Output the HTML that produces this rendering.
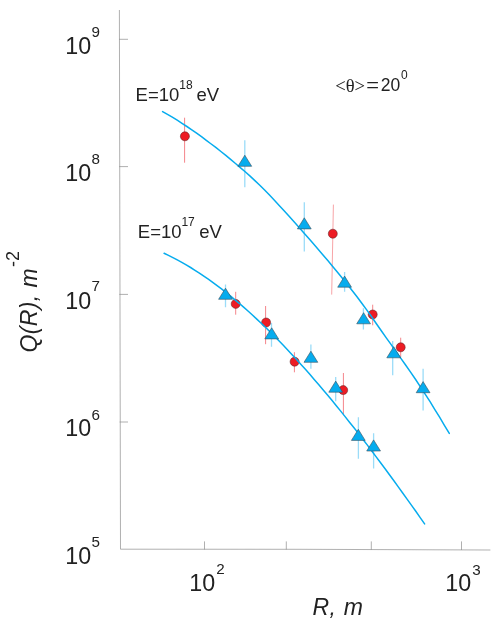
<!DOCTYPE html>
<html><head><meta charset="utf-8">
<style>
html,body{margin:0;padding:0;background:#fff;}
body{width:498px;height:623px;overflow:hidden;}
svg{display:block;will-change:transform;}
text{font-family:"Liberation Sans",sans-serif;fill:#222;}
</style></head><body>
<svg width="498" height="623" viewBox="0 0 498 623">
<rect width="498" height="623" fill="#fff"/>
<!-- axes -->
<g stroke="#8e8e8e" stroke-width="0.7" fill="none">
<path d="M119.4 10L120.5 549.2L300 549.3L490.4 550"/>
<path d="M119 39.3H128M119.2 166.6H128M119.3 294.4H128M119.6 422H128"/>
<path d="M204.5 541.4V549.5M286.3 541.4V549.5M371.3 541.4V549.8M461.5 541.4V550"/>
</g>
<!-- error bars -->
<g stroke="#9bdcf8" stroke-width="1.3" fill="none">
<path d="M244.8 140.2V187.3M304.3 202.2V251.4M344.6 272V291.8M363.4 308.3V329.4M392.7 341V375.2M423.1 368.8V410.4M225.5 284.6V307.3M271.5 323.1V346.8M310.9 344.6V368.7M335.7 377V401.2M358.4 417.2V458.7M373.6 433.2V468.6"/>
</g>
<g stroke="#f4858a" stroke-width="1" fill="none">
<path d="M184.6 117.7L184.6 162.7M372.7 304.7L372.7 325.3M400.7 337.7L400.7 357M235.7 291.8L235.7 314.7M265.6 306L265.6 344.2M294.4 352.2L294.4 372.3M343.4 373L343.4 414.2"/>
</g>
<path d="M333.4 204.6L331.7 294.6" stroke="#f4858a" stroke-width="0.75" fill="none"/>
<!-- circles -->
<g fill="#ed1c24" stroke="#5e2428" stroke-width="0.55">
<circle cx="184.9" cy="136.3" r="4.5"/>
<circle cx="332.8" cy="233.7" r="4.5"/>
<circle cx="372.7" cy="314.5" r="4.5"/>
<circle cx="400.7" cy="347.3" r="4.5"/>
<circle cx="235.7" cy="303.9" r="4.5"/>
<circle cx="266.1" cy="322.5" r="4.5"/>
<circle cx="294.6" cy="361.7" r="4.5"/>
<circle cx="343.2" cy="390.1" r="4.5"/>
</g>
<!-- curves -->
<g stroke="#06acee" stroke-width="1.5" fill="none" stroke-linecap="round" stroke-linejoin="round">
<path id="cu" d="M162.6 111.6L167.5 114.4L172.3 117.2L177.2 120.2L182.0 123.3L186.9 126.5L191.8 129.8L196.6 133.2L201.5 136.7L206.3 140.3L211.2 144.0L216.1 147.7L220.9 151.5L225.8 155.4L230.6 159.4L235.5 163.5L240.3 167.6L245.2 171.8L250.1 176.1L254.9 180.6L259.8 185.2L264.6 190.1L269.5 195.1L274.4 200.2L279.2 205.4L284.1 210.7L288.9 216.1L293.8 221.5L298.7 226.9L303.5 232.4L308.4 238.0L313.2 243.6L318.1 249.2L323.0 254.9L327.8 260.6L332.7 266.4L337.5 272.3L342.4 278.3L347.3 284.3L352.1 290.5L357.0 296.8L361.8 303.3L366.7 309.9L371.6 316.8L376.4 323.7L381.3 330.7L386.1 337.6L391.0 344.4L395.8 351.3L400.7 358.1L405.6 365.0L410.4 371.9L415.3 379.0L420.1 386.3L425.0 393.8L429.9 401.4L434.7 409.3L439.6 417.2L444.4 425.3L449.3 433.4"/>
<path id="cl" d="M164.1 253.3L168.5 255.4L172.9 257.6L177.3 259.9L181.8 262.3L186.2 264.9L190.6 267.5L195.0 270.3L199.4 273.1L203.8 276.1L208.3 279.2L212.7 282.3L217.1 285.6L221.5 288.9L225.9 292.4L230.3 295.9L234.7 299.6L239.2 303.3L243.6 307.1L248.0 311.0L252.4 315.0L256.8 319.1L261.2 323.3L265.7 327.5L270.1 331.9L274.5 336.3L278.9 340.8L283.3 345.3L287.7 350.0L292.1 354.7L296.6 359.5L301.0 364.4L305.4 369.3L309.8 374.3L314.2 379.4L318.6 384.5L323.0 389.7L327.5 395.0L331.9 400.3L336.3 405.7L340.7 411.1L345.1 416.6L349.5 422.2L354.0 427.8L358.4 433.4L362.8 439.2L367.2 444.9L371.6 450.7L376.0 456.6L380.4 462.5L384.9 468.5L389.3 474.5L393.7 480.5L398.1 486.6L402.5 492.7L406.9 498.9L411.4 505.1L415.8 511.3L420.2 517.6L424.6 523.9"/>
</g>
<!-- triangles -->
<g fill="#06acee" stroke="#3b4f5c" stroke-width="0.6" stroke-linejoin="miter">
<path d="M244.8 155.2l6.9 11.1h-13.8z"/>
<path d="M304.3 217.8l6.9 11.1h-13.8z"/>
<path d="M344.6 276.1l6.9 11.1h-13.8z"/>
<path d="M363.6 312.7l6.9 11.1h-13.8z"/>
<path d="M393.7 346.7l6.9 11.1h-13.8z"/>
<path d="M423.1 381.6l6.9 11.1h-13.8z"/>
<path d="M225.5 288.2l6.9 11.1h-13.8z"/>
<path d="M271.7 327.8l6.9 11.1h-13.8z"/>
<path d="M310.9 351.2l6.9 11.1h-13.8z"/>
<path d="M335.7 381.1l6.9 11.1h-13.8z"/>
<path d="M358.3 429.3l6.9 11.1h-13.8z"/>
<path d="M373.6 439.9l6.9 11.1h-13.8z"/>
</g>
<!-- labels -->
<g font-size="23.3">
<text x="65.2" y="53.8">10</text>
<text x="65.2" y="181.3">10</text>
<text x="65.2" y="309">10</text>
<text x="65.2" y="436.4">10</text>
<text x="65.2" y="564">10</text>
<text x="189.2" y="590.6">10</text>
<text x="445.3" y="590.8">10</text>
</g>
<g font-size="15.2">
<text x="91.6" y="36.7">9</text>
<text x="91.6" y="164.2">8</text>
<text x="91.6" y="291.4">7</text>
<text x="91.6" y="419.6">6</text>
<text x="91.6" y="546.7">5</text>
<text x="216.2" y="574.3">2</text>
<text x="472.2" y="574.7">3</text>
</g>
<g font-size="18.5">
<text x="135.6" y="100.8">E=10</text><text x="179.3" y="88.8" font-size="12">18</text><text x="196.5" y="100.8">eV</text>
<text x="137.8" y="237.8">E=10</text><text x="181.4" y="226.2" font-size="12">17</text><text x="199.3" y="237.8">eV</text>
</g>
<g font-size="17.5">
<text x="335.2" y="91.6" font-size="18.6" style="font-family:'Liberation Serif',serif">&lt;θ&gt;</text>
<text transform="translate(366.2 91.3) scale(1.25 1)">=</text>
<text x="380.8" y="91.3">20</text>
<text x="400.9" y="79.3" font-size="12">0</text>
</g>
<text x="312.6" y="615.2" font-size="23" font-style="italic" letter-spacing="0.2">R,<tspan dx="1.2"> m</tspan></text>
<text transform="translate(37 352.6) rotate(-90)" font-size="23" font-style="italic" letter-spacing="0.4">Q(R), m</text>
<text transform="translate(19.1 267) rotate(-90)" font-size="18">-2</text>
</svg>
</body></html>
